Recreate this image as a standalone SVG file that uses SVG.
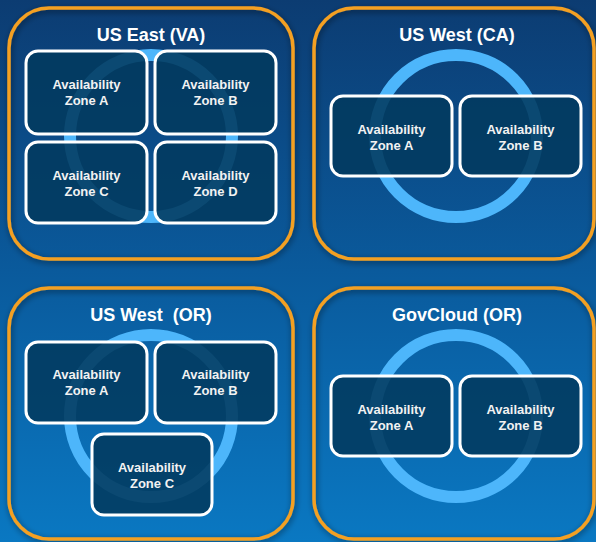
<svg xmlns="http://www.w3.org/2000/svg" width="596" height="542" viewBox="0 0 596 542">
<defs>
<linearGradient id="bg" x1="0" y1="0" x2="0" y2="1">
<stop offset="0" stop-color="#0c3c72"/>
<stop offset="0.5" stop-color="#0a5a9c"/>
<stop offset="1" stop-color="#0a78c2"/>
</linearGradient>
<filter id="sh" x="-10%" y="-10%" width="120%" height="120%">
<feGaussianBlur in="SourceAlpha" stdDeviation="3"/>
<feOffset dx="1" dy="2"/>
<feComponentTransfer><feFuncA type="linear" slope="0.5"/></feComponentTransfer>
<feMerge><feMergeNode/><feMergeNode in="SourceGraphic"/></feMerge>
</filter>
</defs>
<style>
.region{fill:none;stroke:#f4a023;stroke-width:3.5}
.ring{fill:none;stroke:#4db6fb;stroke-width:12}
.zone{fill:#023a5f;fill-opacity:0.88;stroke:#ffffff;stroke-width:3}
.title{font-family:"Liberation Sans",Arial,sans-serif;font-weight:bold;font-size:18px;fill:#ffffff;text-anchor:middle}
.zt{font-family:"Liberation Sans",Arial,sans-serif;font-weight:bold;font-size:13px;fill:#f2f2f2;text-anchor:middle}
</style>
<rect x="0" y="0" width="596" height="542" fill="url(#bg)"/>

<g id="region-us-east">
<rect class="region" x="9" y="8" width="284" height="251" rx="40" filter="url(#sh)"/>
<text class="title" x="151" y="41">US East (VA)</text>
<circle class="ring" cx="151" cy="136" r="81"/>
<g id="use-a"><rect class="zone" x="26" y="51" width="121" height="83" rx="12"/><text class="zt" x="86.5" y="89">Availability</text><text class="zt" x="86.5" y="105">Zone A</text></g>
<g id="use-b"><rect class="zone" x="155" y="51" width="121" height="83" rx="12"/><text class="zt" x="215.5" y="89">Availability</text><text class="zt" x="215.5" y="105">Zone B</text></g>
<g id="use-c"><rect class="zone" x="26" y="142" width="121" height="81" rx="12"/><text class="zt" x="86.5" y="180">Availability</text><text class="zt" x="86.5" y="196">Zone C</text></g>
<g id="use-d"><rect class="zone" x="155" y="142" width="121" height="81" rx="12"/><text class="zt" x="215.5" y="180">Availability</text><text class="zt" x="215.5" y="196">Zone D</text></g>
</g>

<g id="region-us-west-ca">
<rect class="region" x="314" y="8" width="280" height="251" rx="40" filter="url(#sh)"/>
<text class="title" x="457" y="41">US West (CA)</text>
<circle class="ring" cx="456" cy="136" r="81"/>
<g id="usw-a"><rect class="zone" x="331" y="96" width="121" height="80" rx="12"/><text class="zt" x="391.5" y="134">Availability</text><text class="zt" x="391.5" y="150">Zone A</text></g>
<g id="usw-b"><rect class="zone" x="460" y="96" width="121" height="80" rx="12"/><text class="zt" x="520.5" y="134">Availability</text><text class="zt" x="520.5" y="150">Zone B</text></g>
</g>

<g id="region-us-west-or">
<rect class="region" x="9" y="288" width="284" height="251" rx="40" filter="url(#sh)"/>
<text class="title" x="151" y="321" xml:space="preserve">US West  (OR)</text>
<circle class="ring" cx="151" cy="416" r="81"/>
<g id="uso-a"><rect class="zone" x="26" y="342" width="121" height="81" rx="12"/><text class="zt" x="86.5" y="379">Availability</text><text class="zt" x="86.5" y="395">Zone A</text></g>
<g id="uso-b"><rect class="zone" x="155" y="342" width="121" height="81" rx="12"/><text class="zt" x="215.5" y="379">Availability</text><text class="zt" x="215.5" y="395">Zone B</text></g>
<g id="uso-c"><rect class="zone" x="92" y="434" width="120" height="81" rx="12"/><text class="zt" x="152" y="472">Availability</text><text class="zt" x="152" y="488">Zone C</text></g>
</g>

<g id="region-govcloud">
<rect class="region" x="314" y="288" width="280" height="251" rx="40" filter="url(#sh)"/>
<text class="title" x="457" y="321">GovCloud (OR)</text>
<circle class="ring" cx="456" cy="416" r="81"/>
<g id="gov-a"><rect class="zone" x="331" y="376" width="121" height="80" rx="12"/><text class="zt" x="391.5" y="414">Availability</text><text class="zt" x="391.5" y="430">Zone A</text></g>
<g id="gov-b"><rect class="zone" x="460" y="376" width="121" height="80" rx="12"/><text class="zt" x="520.5" y="414">Availability</text><text class="zt" x="520.5" y="430">Zone B</text></g>
</g>

<g id="connectors"></g>
</svg>
